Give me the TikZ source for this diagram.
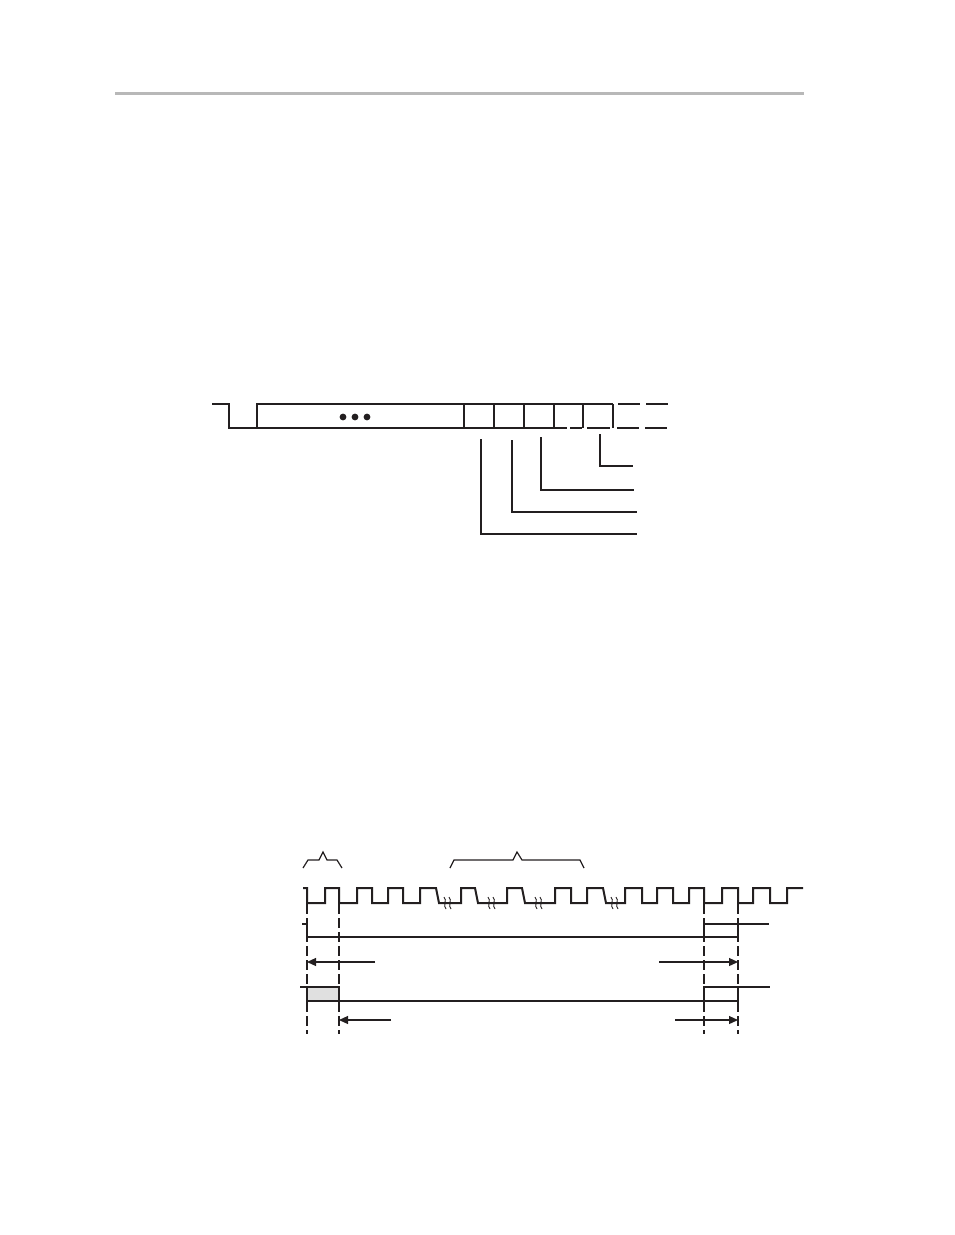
\documentclass[tikz,border=0pt]{standalone}
\usetikzlibrary{arrows.meta}
\definecolor{ink}{HTML}{231F20}
\definecolor{rulegray}{HTML}{B8B8B8}
\definecolor{shade}{HTML}{E0E0E0}
\tikzset{
  thin line/.style={draw=ink,line width=1.2pt},
  wave/.style={draw=ink,line width=2pt,line join=miter},
  guide/.style={draw=ink,line width=1.2pt,dash pattern=on 10pt off 4pt},
  dashedline/.style={draw=ink,line width=1.3pt,dash pattern=on 22pt off 6pt},
  tip/.style={draw=ink,line width=1.2pt,-{Triangle[length=9pt,width=8pt]}},
  squiggle/.style={draw=ink,line width=0.9pt},
}
\begin{document}
\begin{tikzpicture}[x=1pt,y=-1pt]
\useasboundingbox (0,0) rectangle (954,1235);
% header rule
\fill[rulegray] (115,91.5) rectangle (804,94.5);

% ===== top frame diagram =====
\draw[thin line,line width=1.5pt] (212,404) -- (229,404) -- (229,428) -- (567,428);
\draw[thin line,line width=1.5pt] (257,428) -- (257,404) -- (613,404);
\foreach \x in {464,494,524,613}
  \draw[thin line,line width=1.5pt] (\x,404) -- (\x,428);
\foreach \x in {554,583}
  \draw[thin line,line width=2pt] (\x,404) -- (\x,428);
\draw[dashedline] (618,404) -- (673,404);
\draw[dashedline,dash pattern=on 12pt off 5pt on 23pt off 7pt] (570,428) -- (613,428);
\draw[dashedline] (617,428) -- (673,428);
\foreach \x in {343,355,367}
  \fill[ink] (\x,417) circle (3.4);
% leader lines
\coordinate (l1) at (481,439);
\coordinate (l2) at (512,440);
\coordinate (l3) at (541,437);
\coordinate (l4) at (600,434);
\draw[thin line,line width=1.3pt] (l1) |- (637,534);
\draw[thin line,line width=1.3pt] (l2) |- (637,512);
\draw[thin line,line width=1.3pt] (l3) |- (634,490);
\draw[thin line,line width=1.3pt] (l4) |- (633,466);

% ===== timing diagram =====
% braces
\draw[thin line,line join=miter] (303,868) -- (308,860) -- (319,860) -- (323,852) -- (327,860) -- (337,860) -- (342,868);
\draw[thin line,line join=miter] (450,868) -- (454,860) -- (513,860) -- (517,852) -- (522,860) -- (580,860) -- (584,868);
% clock
\draw[wave] (303,888) -- (307,888) -- (307,903) -- (325,903) -- (325,888) -- (339,888) -- (339,903)
 -- (357,903) -- (357,888) -- (372,888) -- (372,903) -- (388,903) -- (388,888) -- (403,888) -- (403,903)
 -- (420,903) -- (420,888) -- (436,888) -- (439,903) -- (461,903) -- (461,888) -- (475,888) -- (478,903)
 -- (507,903) -- (507,888) -- (522,888) -- (525,903) -- (555,903) -- (555,888) -- (571,888) -- (571,903)
 -- (587,903) -- (587,888) -- (603,888) -- (606,903) -- (625,903) -- (625,888) -- (642,888) -- (642,903)
 -- (657,903) -- (657,888) -- (673,888) -- (673,903) -- (689,903) -- (689,888) -- (704,888) -- (704,903)
 -- (722,903) -- (722,888) -- (738,888) -- (738,903) -- (753,903) -- (753,888) -- (770,888) -- (770,903)
 -- (787,903) -- (787,888) -- (803,888);
\foreach \x in {445,450,489,494,536,541,612,617}
  \draw[squiggle] (\x-1,897) .. controls (\x+2.5,900) and (\x-2.5,906) .. (\x+1,909);
% dashed guides
\foreach \x in {307,339,704,738}
  \draw[guide] (\x,904) -- (\x,1034);
% signal 1
\draw[thin line,line width=2pt] (302,924) -- (307,924);
\draw[thin line] (307,924) -- (307,937) -- (738,937) -- (738,924);
\draw[thin line] (704,924) -- (704,937);
\draw[thin line,line width=2.4pt] (704,924) -- (769,924);
% arrows row 1
\coordinate (a1s) at (375,962);
\coordinate (a1e) at (307,962);
\coordinate (a2s) at (659,962);
\coordinate (a2e) at (738,962);
\draw[tip] (a1s) -- (a1e);
\draw[tip] (a2s) -- (a2e);
% signal 2
\draw[thin line] (300,987) -- (307,987);
\filldraw[fill=shade,draw=ink,line width=1.2pt] (307,987) rectangle (339,1001);
\draw[thin line] (339,1001) -- (738,1001) -- (738,987);
\draw[thin line] (704,1001) -- (704,987) -- (770,987);
% arrows row 2
\coordinate (b1s) at (391,1020);
\coordinate (b1e) at (339,1020);
\coordinate (b2s) at (675,1020);
\coordinate (b2e) at (738,1020);
\draw[tip] (b1s) -- (b1e);
\draw[tip] (b2s) -- (b2e);
\end{tikzpicture}
\end{document}
